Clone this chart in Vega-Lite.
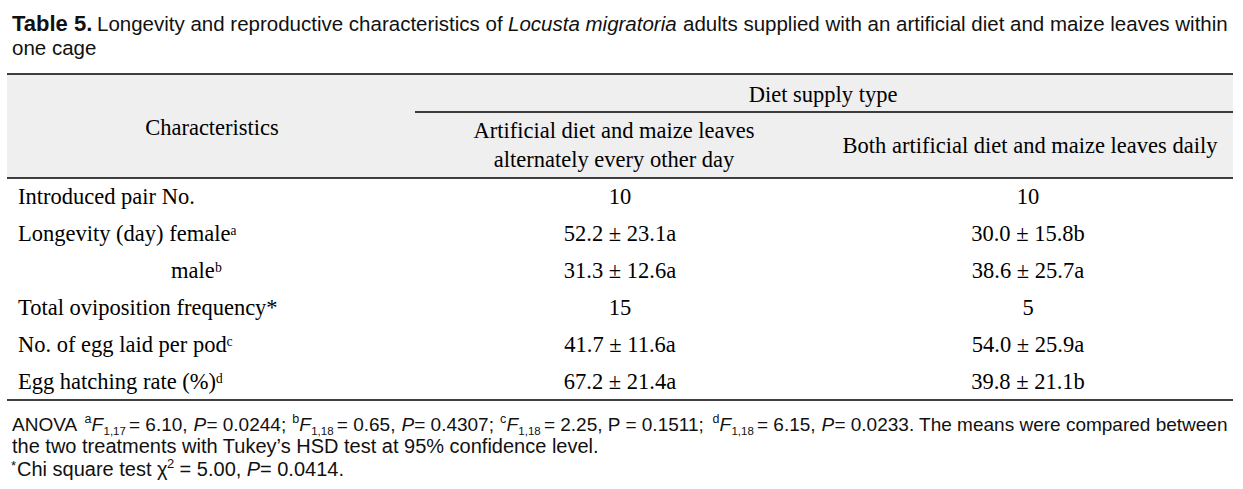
{
  "$schema": "https://vega.github.io/schema/vega-lite/v6.json",
  "width": 1243,
  "height": 489,
  "padding": 0,
  "autosize": {"type": "fit", "contains": "padding"},
  "background": "#ffffff",
  "config": {"view": {"stroke": null}},
  "resolve": {"scale": {"y": "independent"}},
  "layer": [
    {
      "data": {"values": [{}]},
      "mark": {"type": "rect", "color": "#efefef"},
      "encoding": {
        "x": {"datum": 7, "type": "quantitative", "scale": {"domain": [0, 1243], "nice": false, "zero": false}, "axis": null},
        "x2": {"datum": 1233},
        "y": {"datum": 74, "type": "quantitative", "scale": {"domain": [0, 489], "reverse": true, "nice": false, "zero": false}, "axis": null},
        "y2": {"datum": 178}
      }
    },
    {
      "data": {"values": [{"rule": "top"}, {"rule": "header"}, {"rule": "bottom"}]},
      "transform": [{"lookup": "rule", "from": {"data": {"values": [{"rule": "top", "pos": 74}, {"rule": "header", "pos": 178}, {"rule": "bottom", "pos": 400}]}, "key": "rule", "fields": ["pos"]}}],
      "mark": {"type": "rule", "color": "#000000", "strokeWidth": 1.6},
      "encoding": {
        "x": {"datum": 7, "type": "quantitative", "scale": {"domain": [0, 1243], "nice": false, "zero": false}, "axis": null},
        "x2": {"datum": 1233},
        "y": {"field": "pos", "type": "quantitative", "scale": {"domain": [0, 489], "reverse": true, "nice": false, "zero": false}, "axis": null}
      }
    },
    {
      "data": {"values": [{}]},
      "mark": {"type": "rule", "color": "#000000", "strokeWidth": 1.4},
      "encoding": {
        "x": {"datum": 415, "type": "quantitative", "scale": {"domain": [0, 1243], "nice": false, "zero": false}, "axis": null},
        "x2": {"datum": 1233},
        "y": {"datum": 112, "type": "quantitative", "scale": {"domain": [0, 489], "reverse": true, "nice": false, "zero": false}, "axis": null}
      }
    },
    {
      "data": {"values": [{"x": 12, "y": 31, "t": "Table 5."}]},
      "mark": {"type": "text", "font": "Liberation Sans", "fontWeight": "bold", "fontSize": 22, "align": "left", "baseline": "alphabetic", "color": "#111111"},
      "encoding": {
        "x": {"field": "x", "type": "quantitative", "scale": {"domain": [0, 1243], "nice": false, "zero": false}, "axis": null},
        "y": {"field": "y", "type": "quantitative", "scale": {"domain": [0, 489], "reverse": true, "nice": false, "zero": false}, "axis": null},
        "text": {"field": "t"}
      }
    },
    {
      "data": {"values": [
        {"x": 97, "y": 31, "t": "Longevity and reproductive characteristics of"},
        {"x": 683, "y": 31, "t": "adults supplied with an artificial diet and maize leaves within"},
        {"x": 12, "y": 55, "t": "one cage"}
      ]},
      "mark": {"type": "text", "font": "Liberation Sans", "fontSize": 20.5, "align": "left", "baseline": "alphabetic", "color": "#111111"},
      "encoding": {
        "x": {"field": "x", "type": "quantitative", "scale": {"domain": [0, 1243], "nice": false, "zero": false}, "axis": null},
        "y": {"field": "y", "type": "quantitative", "scale": {"domain": [0, 489], "reverse": true, "nice": false, "zero": false}, "axis": null},
        "text": {"field": "t"}
      }
    },
    {
      "data": {"values": [{"x": 508, "y": 31, "t": "Locusta migratoria"}]},
      "mark": {"type": "text", "font": "Liberation Sans", "fontStyle": "italic", "fontSize": 20.5, "align": "left", "baseline": "alphabetic", "color": "#111111"},
      "encoding": {
        "x": {"field": "x", "type": "quantitative", "scale": {"domain": [0, 1243], "nice": false, "zero": false}, "axis": null},
        "y": {"field": "y", "type": "quantitative", "scale": {"domain": [0, 489], "reverse": true, "nice": false, "zero": false}, "axis": null},
        "text": {"field": "t"}
      }
    },
    {
      "data": {"values": [{"header": "Diet supply type"}]},
      "mark": {"type": "text", "font": "Liberation Serif", "fontSize": 22.5, "align": "center", "baseline": "alphabetic", "color": "#000000"},
      "encoding": {
        "x": {"datum": 823, "type": "quantitative", "scale": {"domain": [0, 1243], "nice": false, "zero": false}, "axis": null},
        "y": {"datum": 102, "type": "quantitative", "scale": {"domain": [0, 489], "reverse": true, "nice": false, "zero": false}, "axis": null},
        "text": {"field": "header"}
      }
    },
    {
      "data": {"values": [{"header": "Characteristics"}]},
      "mark": {"type": "text", "font": "Liberation Serif", "fontSize": 22.5, "align": "center", "baseline": "alphabetic", "color": "#000000"},
      "encoding": {
        "x": {"datum": 212, "type": "quantitative", "scale": {"domain": [0, 1243], "nice": false, "zero": false}, "axis": null},
        "y": {"datum": 135, "type": "quantitative", "scale": {"domain": [0, 489], "reverse": true, "nice": false, "zero": false}, "axis": null},
        "text": {"field": "header"}
      }
    },
    {
      "data": {"values": [{"header": ["Artificial diet and maize leaves", "alternately every other day"]}]},
      "mark": {"type": "text", "font": "Liberation Serif", "fontSize": 22.5, "lineHeight": 29, "align": "center", "baseline": "alphabetic", "color": "#000000"},
      "encoding": {
        "x": {"datum": 614, "type": "quantitative", "scale": {"domain": [0, 1243], "nice": false, "zero": false}, "axis": null},
        "y": {"datum": 138, "type": "quantitative", "scale": {"domain": [0, 489], "reverse": true, "nice": false, "zero": false}, "axis": null},
        "text": {"field": "header"}
      }
    },
    {
      "data": {"values": [{"header": "Both artificial diet and maize leaves daily"}]},
      "mark": {"type": "text", "font": "Liberation Serif", "fontSize": 22.5, "align": "center", "baseline": "alphabetic", "color": "#000000"},
      "encoding": {
        "x": {"datum": 1030, "type": "quantitative", "scale": {"domain": [0, 1243], "nice": false, "zero": false}, "axis": null},
        "y": {"datum": 153, "type": "quantitative", "scale": {"domain": [0, 489], "reverse": true, "nice": false, "zero": false}, "axis": null},
        "text": {"field": "header"}
      }
    },
    {
      "data": {"name": "table", "values": [
        {"row": 1, "level": 1, "Characteristics": "Introduced pair No.", "Alternate": "10", "Daily": "10"},
        {"row": 2, "level": 1, "Characteristics": "Longevity (day) femaleᵃ", "Alternate": "52.2 ± 23.1a", "Daily": "30.0 ± 15.8b"},
        {"row": 3, "level": 2, "Characteristics": "maleᵇ", "Alternate": "31.3 ± 12.6a", "Daily": "38.6 ± 25.7a"},
        {"row": 4, "level": 1, "Characteristics": "Total oviposition frequency*", "Alternate": "15", "Daily": "5"},
        {"row": 5, "level": 1, "Characteristics": "No. of egg laid per podᶜ", "Alternate": "41.7 ± 11.6a", "Daily": "54.0 ± 25.9a"},
        {"row": 6, "level": 1, "Characteristics": "Egg hatching rate (%)ᵈ", "Alternate": "67.2 ± 21.4a", "Daily": "39.8 ± 21.1b"}
      ]},
      "transform": [{"filter": "datum.level == 1"}],
      "mark": {"type": "text", "font": "Liberation Serif", "fontSize": 22.5, "align": "left", "baseline": "alphabetic", "color": "#000000"},
      "encoding": {
        "x": {"datum": 18, "type": "quantitative", "scale": {"domain": [0, 1243], "nice": false, "zero": false}, "axis": null},
        "y": {"field": "row", "type": "ordinal", "scale": {"type": "point", "domain": [1, 2, 3, 4, 5, 6], "range": [204, 389], "padding": 0}, "axis": null},
        "text": {"field": "Characteristics"}
      }
    },
    {
      "data": {"name": "table"},
      "transform": [{"filter": "datum.level == 2"}],
      "mark": {"type": "text", "font": "Liberation Serif", "fontSize": 22.5, "align": "left", "baseline": "alphabetic", "color": "#000000"},
      "encoding": {
        "x": {"datum": 171, "type": "quantitative", "scale": {"domain": [0, 1243], "nice": false, "zero": false}, "axis": null},
        "y": {"field": "row", "type": "ordinal", "scale": {"type": "point", "domain": [1, 2, 3, 4, 5, 6], "range": [204, 389], "padding": 0}, "axis": null},
        "text": {"field": "Characteristics"}
      }
    },
    {
      "data": {"name": "table"},
      "mark": {"type": "text", "font": "Liberation Serif", "fontSize": 22.5, "align": "center", "baseline": "alphabetic", "color": "#000000"},
      "encoding": {
        "x": {"datum": 620, "type": "quantitative", "scale": {"domain": [0, 1243], "nice": false, "zero": false}, "axis": null},
        "y": {"field": "row", "type": "ordinal", "scale": {"type": "point", "domain": [1, 2, 3, 4, 5, 6], "range": [204, 389], "padding": 0}, "axis": null},
        "text": {"field": "Alternate"}
      }
    },
    {
      "data": {"name": "table"},
      "mark": {"type": "text", "font": "Liberation Serif", "fontSize": 22.5, "align": "center", "baseline": "alphabetic", "color": "#000000"},
      "encoding": {
        "x": {"datum": 1028, "type": "quantitative", "scale": {"domain": [0, 1243], "nice": false, "zero": false}, "axis": null},
        "y": {"field": "row", "type": "ordinal", "scale": {"type": "point", "domain": [1, 2, 3, 4, 5, 6], "range": [204, 389], "padding": 0}, "axis": null},
        "text": {"field": "Daily"}
      }
    },
    {
      "data": {"values": [
        {"x": 12, "y": 431, "t": "ANOVA"},
        {"x": 129, "y": 431, "t": "= 6.10,"},
        {"x": 206.4, "y": 431, "t": "= 0.0244;"},
        {"x": 336.8, "y": 431, "t": "= 0.65,"},
        {"x": 414.2, "y": 431, "t": "= 0.4307;"},
        {"x": 543.9, "y": 431, "t": "= 2.25, P = 0.1511;"},
        {"x": 757, "y": 431, "t": "= 6.15,"},
        {"x": 834.4, "y": 431, "t": "= 0.0233. The means were compared between"}
      ]},
      "mark": {"type": "text", "font": "Liberation Sans", "fontSize": 19, "align": "left", "baseline": "alphabetic", "color": "#111111"},
      "encoding": {
        "x": {"field": "x", "type": "quantitative", "scale": {"domain": [0, 1243], "nice": false, "zero": false}, "axis": null},
        "y": {"field": "y", "type": "quantitative", "scale": {"domain": [0, 489], "reverse": true, "nice": false, "zero": false}, "axis": null},
        "text": {"field": "t"}
      }
    },
    {
      "data": {"values": [
        {"x": 91.5, "y": 431, "t": "F"},
        {"x": 193.6, "y": 431, "t": "P"},
        {"x": 299.3, "y": 431, "t": "F"},
        {"x": 401.4, "y": 431, "t": "P"},
        {"x": 506.4, "y": 431, "t": "F"},
        {"x": 719.5, "y": 431, "t": "F"},
        {"x": 821.6, "y": 431, "t": "P"}
      ]},
      "mark": {"type": "text", "font": "Liberation Sans", "fontStyle": "italic", "fontSize": 19, "align": "left", "baseline": "alphabetic", "color": "#111111"},
      "encoding": {
        "x": {"field": "x", "type": "quantitative", "scale": {"domain": [0, 1243], "nice": false, "zero": false}, "axis": null},
        "y": {"field": "y", "type": "quantitative", "scale": {"domain": [0, 489], "reverse": true, "nice": false, "zero": false}, "axis": null},
        "text": {"field": "t"}
      }
    },
    {
      "data": {"values": [
        {"x": 84.6, "y": 423, "t": "a"},
        {"x": 292.3, "y": 423, "t": "b"},
        {"x": 500.1, "y": 423, "t": "c"},
        {"x": 712.6, "y": 423, "t": "d"}
      ]},
      "mark": {"type": "text", "font": "Liberation Sans", "fontSize": 12.5, "align": "left", "baseline": "alphabetic", "color": "#111111"},
      "encoding": {
        "x": {"field": "x", "type": "quantitative", "scale": {"domain": [0, 1243], "nice": false, "zero": false}, "axis": null},
        "y": {"field": "y", "type": "quantitative", "scale": {"domain": [0, 489], "reverse": true, "nice": false, "zero": false}, "axis": null},
        "text": {"field": "t"}
      }
    },
    {
      "data": {"values": [
        {"x": 103.5, "y": 435, "t": "1,17"},
        {"x": 311.2, "y": 435, "t": "1,18"},
        {"x": 518.3, "y": 435, "t": "1,18"},
        {"x": 731.4, "y": 435, "t": "1,18"}
      ]},
      "mark": {"type": "text", "font": "Liberation Sans", "fontSize": 11.5, "align": "left", "baseline": "alphabetic", "color": "#111111"},
      "encoding": {
        "x": {"field": "x", "type": "quantitative", "scale": {"domain": [0, 1243], "nice": false, "zero": false}, "axis": null},
        "y": {"field": "y", "type": "quantitative", "scale": {"domain": [0, 489], "reverse": true, "nice": false, "zero": false}, "axis": null},
        "text": {"field": "t"}
      }
    },
    {
      "data": {"values": [
        {"x": 12, "y": 453, "t": "the two treatments with Tukey’s HSD test at 95% confidence level."},
        {"x": 17, "y": 476, "t": "Chi square test χ"},
        {"x": 179.6, "y": 476, "t": "= 5.00,"},
        {"x": 260, "y": 476, "t": "= 0.0414."}
      ]},
      "mark": {"type": "text", "font": "Liberation Sans", "fontSize": 20, "align": "left", "baseline": "alphabetic", "color": "#111111"},
      "encoding": {
        "x": {"field": "x", "type": "quantitative", "scale": {"domain": [0, 1243], "nice": false, "zero": false}, "axis": null},
        "y": {"field": "y", "type": "quantitative", "scale": {"domain": [0, 489], "reverse": true, "nice": false, "zero": false}, "axis": null},
        "text": {"field": "t"}
      }
    },
    {
      "data": {"values": [{"x": 246.8, "y": 476, "t": "P"}]},
      "mark": {"type": "text", "font": "Liberation Sans", "fontStyle": "italic", "fontSize": 20, "align": "left", "baseline": "alphabetic", "color": "#111111"},
      "encoding": {
        "x": {"field": "x", "type": "quantitative", "scale": {"domain": [0, 1243], "nice": false, "zero": false}, "axis": null},
        "y": {"field": "y", "type": "quantitative", "scale": {"domain": [0, 489], "reverse": true, "nice": false, "zero": false}, "axis": null},
        "text": {"field": "t"}
      }
    },
    {
      "data": {"values": [{"x": 11, "y": 470, "t": "*"}, {"x": 167, "y": 468, "t": "2"}]},
      "mark": {"type": "text", "font": "Liberation Sans", "fontSize": 13, "align": "left", "baseline": "alphabetic", "color": "#111111"},
      "encoding": {
        "x": {"field": "x", "type": "quantitative", "scale": {"domain": [0, 1243], "nice": false, "zero": false}, "axis": null},
        "y": {"field": "y", "type": "quantitative", "scale": {"domain": [0, 489], "reverse": true, "nice": false, "zero": false}, "axis": null},
        "text": {"field": "t"}
      }
    }
  ]
}
